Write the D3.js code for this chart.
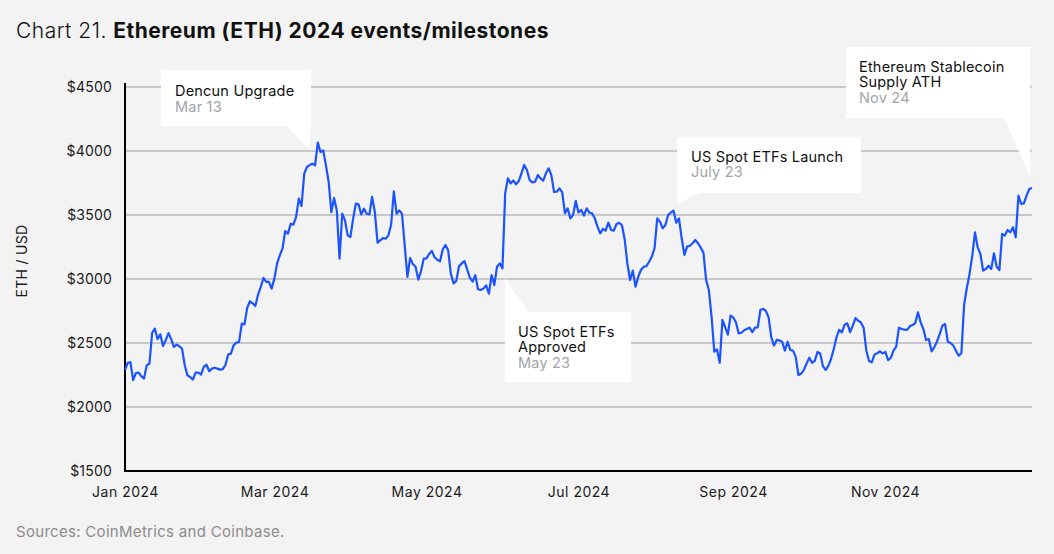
<!DOCTYPE html>
<html>
<head>
<meta charset="utf-8">
<script src="https://cdn.jsdelivr.net/npm/d3@7"></script>
<style>
  html, body { margin: 0; padding: 0; background: #f3f3f3; }
  svg { display: block; font-family: Inter, "Noto Sans", sans-serif; }
</style>
</head>
<body>
<svg id="chart" width="1054" height="554"></svg>
<script>
// ---- Data: ETH/USD daily close (Jan 1 .. Nov 30, 2024) ----
const startDate = "2024-01-01";
const jan = [2290,2345,2350,2210,2265,2268,2240,2222,2326,2339,2580,2612,2530,2568,2477,2521,2578,2530,2469,2487,2475,2456,2326,2247,2234,2214,2268,2268,2253,2313,2331];
const feb = [2279,2300,2307,2300,2292,2296,2330,2410,2417,2482,2503,2508,2651,2646,2774,2826,2810,2789,2878,2938,3008,2977,2977,2925,3003,3120,3185,3237,3375];
const mar = [3354,3432,3424,3484,3628,3570,3823,3875,3890,3901,3888,4065,3992,4005,3888,3758,3523,3633,3536,3159,3510,3460,3341,3328,3471,3589,3583,3505,3549,3510,3505];
const apr = [3641,3523,3284,3302,3320,3315,3341,3424,3685,3510,3536,3510,3263,3016,3164,3117,3096,2995,3060,3159,3160,3195,3220,3170,3150,3138,3230,3266,3225,3040];
const may = [2966,2985,3100,3122,3140,3075,3010,2980,3030,2920,2914,2925,2950,2885,3031,2953,3096,3122,3083,3669,3786,3747,3770,3740,3765,3826,3891,3852,3773,3755,3760];
const jun = [3812,3786,3768,3826,3865,3812,3680,3682,3708,3677,3513,3552,3474,3500,3610,3520,3539,3495,3552,3518,3513,3474,3409,3357,3391,3378,3440,3383,3378,3430];
const jul = [3440,3420,3310,3120,2992,3065,2940,3018,3070,3096,3101,3135,3175,3240,3474,3448,3396,3422,3500,3518,3534,3440,3474,3318,3188,3253,3260,3279,3305,3279,3245];
const aug = [3206,2992,2914,2706,2432,2450,2346,2680,2625,2565,2714,2700,2660,2575,2580,2600,2609,2620,2585,2620,2622,2760,2766,2750,2700,2544,2480,2524,2520,2510,2440];
const sep = [2510,2445,2440,2390,2250,2260,2290,2340,2385,2345,2360,2430,2418,2320,2290,2322,2375,2453,2544,2602,2583,2643,2654,2585,2635,2695,2674,2661,2620,2440];
const oct = [2360,2349,2409,2420,2435,2419,2430,2367,2383,2440,2471,2620,2609,2604,2602,2630,2640,2655,2740,2661,2609,2524,2531,2435,2466,2510,2570,2635,2648,2510,2500];
const nov = [2480,2440,2401,2420,2800,2930,3040,3180,3365,3247,3195,3065,3078,3104,3078,3201,3096,3070,3352,3339,3383,3365,3404,3326,3651,3586,3591,3651,3703,3711];

const yTickValues = [1500, 2000, 2500, 3000, 3500, 4000, 4500];
const axisStart = "2024-01-01";
const axisEnd = "2024-12-31";

const titlePrefix = "Chart 21. ";
const titleMain = "Ethereum (ETH) 2024 events/milestones";
const yTitle = "ETH / USD";
const sourceText = "Sources: CoinMetrics and Coinbase.";

const eventTitles = [["Dencun Upgrade"], ["US Spot ETFs", "Approved"], ["US Spot ETFs Launch"], ["Ethereum Stablecoin", "Supply ATH"]];
const eventDates = ["Mar 13", "May 23", "July 23", "Nov 24"];

// ---- Build series ----
const parse = d3.utcParse("%Y-%m-%d");
const values = [].concat(jan, feb, mar, apr, may, jun, jul, aug, sep, oct, nov);
const t0 = parse(startDate);
const series = values.map((v, i) => ({ date: d3.utcDay.offset(t0, i), value: v }));

// ---- Layout ----
const L = 125, R = 1032, T = 87, B = 471;
const svg = d3.select("#chart");
svg.append("rect").attr("width", 1054).attr("height", 554).attr("fill", "#f3f3f3");

const x = d3.scaleUtc().domain(d3.extent(series, d => d.date)).range([L, R]);
const xAxisScale = d3.scaleUtc().domain([parse(axisStart), parse(axisEnd)]).range([L, 1034.5]);
const y = d3.scaleLinear().domain([1500, 4500]).range([B, T]);

// gridlines
svg.append("g").selectAll("line").data(yTickValues).join("line")
  .attr("x1", L).attr("x2", R)
  .attr("y1", d => y(d)).attr("y2", d => y(d))
  .attr("stroke", "#c8c8c8").attr("stroke-width", 2);

// y axis labels
const yAxisG = svg.append("g").attr("transform", `translate(${L},0)`)
  .call(d3.axisLeft(y).tickValues(yTickValues).tickFormat(d => "$" + d).tickSize(0).tickPadding(13));
yAxisG.select(".domain").remove();
yAxisG.selectAll("text").attr("font-size", 14).attr("letter-spacing", 0.2).attr("fill", "#1a1a1a").attr("font-family", "Inter, sans-serif");

// x axis labels
const xAxisG = svg.append("g").attr("transform", `translate(0,${B})`)
  .call(d3.axisBottom(xAxisScale).ticks(d3.utcMonth.every(2)).tickFormat(d3.utcFormat("%b %Y")).tickSize(0).tickPadding(16));
xAxisG.select(".domain").remove();
xAxisG.selectAll("text").attr("font-size", 14).attr("letter-spacing", 0.5).attr("fill", "#1a1a1a").attr("font-family", "Inter, sans-serif");

// axis lines
svg.append("line").attr("x1", L).attr("x2", L).attr("y1", 83).attr("y2", B + 1)
  .attr("stroke", "#000").attr("stroke-width", 2);
svg.append("line").attr("x1", L - 1).attr("x2", R).attr("y1", B).attr("y2", B)
  .attr("stroke", "#000").attr("stroke-width", 2);

// line
svg.append("path").datum(series)
  .attr("fill", "none").attr("stroke", "#1a53ff").attr("stroke-width", 2.2)
  .attr("stroke-linejoin", "round")
  .attr("d", d3.line().x(d => x(d.date)).y(d => y(d.value)));

// annotations (layout in code)
const callouts = [
  { box: [161, 70, 150, 56], ptr: [[286, 125], [311, 125], [310, 150.5]], tx: 175, ty: 96 },
  { box: [505, 312, 126, 70], ptr: [[505, 313], [529.5, 313], [505, 278.5]], tx: 518, ty: 336.5 },
  { box: [677, 137, 184, 56], ptr: [[677, 192], [702, 192], [677, 204]], tx: 691, ty: 161.5 },
  { box: [846, 47, 184, 71], ptr: [[1004, 117], [1030, 117], [1030, 177]], tx: 859, ty: 71.5 }
];
const lh = 15.5;
callouts.forEach((c, i) => {
  const g = svg.append("g");
  g.append("rect").attr("x", c.box[0]).attr("y", c.box[1]).attr("width", c.box[2]).attr("height", c.box[3]).attr("fill", "#fff");
  g.append("polygon").attr("points", c.ptr.map(p => p.join(",")).join(" ")).attr("fill", "#fff");
  const t = g.append("text").attr("x", c.tx).attr("y", c.ty).attr("font-size", 14.5).attr("letter-spacing", 0.2);
  const lines = eventTitles[i];
  lines.forEach((s, k) => {
    t.append("tspan").attr("x", c.tx).attr("dy", k === 0 ? 0 : lh).attr("fill", "#111").text(s);
  });
  t.append("tspan").attr("x", c.tx).attr("dy", lh).attr("fill", "#a0a6aa").text(eventDates[i]);
});

// title
const title = svg.append("text").attr("x", 16).attr("y", 38).attr("font-size", 21).attr("letter-spacing", 0.5).attr("fill", "#111");
title.append("tspan").attr("font-weight", 300).text(titlePrefix);
title.append("tspan").attr("font-weight", 700).text(titleMain);

// y title
svg.append("text").attr("transform", "translate(27,261) rotate(-90)").attr("text-anchor", "middle")
  .attr("font-size", 14).attr("letter-spacing", 0.3).attr("fill", "#1a1a1a").text(yTitle);

// source
svg.append("text").attr("x", 16).attr("y", 537).attr("font-size", 15).attr("letter-spacing", 0.3).attr("fill", "#8c8c8c").text(sourceText);
</script>
</body>
</html>
